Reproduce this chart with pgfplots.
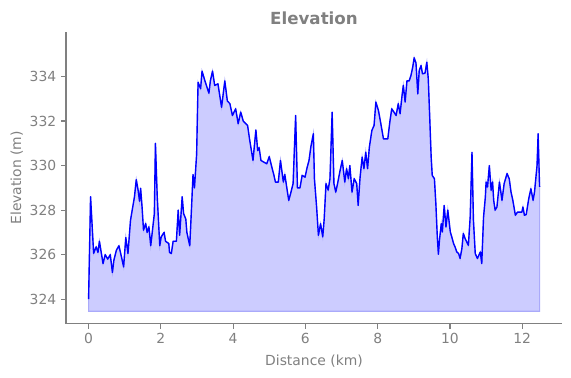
\documentclass[border=0pt]{standalone}
\usepackage{pgfplots}
\pgfplotsset{compat=1.18}
\usepackage{pgfplotstable}
\usepackage{fontspec}
\setmainfont{DejaVu Sans}
\definecolor{txtgray}{RGB}{128,128,128}
\definecolor{fillblue}{RGB}{204,204,255}
\definecolor{edgeblue}{RGB}{170,170,250}
\pgfplotstableread{
x y
0.00 324.0
0.055 328.6
0.14 326.06
0.21 326.35
0.26 326.1
0.30 326.6
0.40 325.6
0.46 326.0
0.53 325.8
0.60 326.0
0.66 325.2
0.70 325.75
0.77 326.2
0.84 326.4
0.91 325.9
0.97 325.45
1.03 326.77
1.09 326.05
1.16 327.54
1.27 328.6
1.32 329.37
1.37 328.9
1.41 328.4
1.44 328.98
1.48 328.14
1.52 327.1
1.58 327.4
1.62 327.0
1.67 327.25
1.72 326.4
1.82 327.84
1.85 331.0
1.90 328.6
1.97 326.4
2.01 326.8
2.09 327.0
2.13 326.6
2.22 326.5
2.24 326.1
2.29 326.05
2.34 326.6
2.43 326.6
2.48 328.0
2.52 326.87
2.59 328.6
2.63 327.84
2.69 327.6
2.72 327.0
2.80 326.4
2.85 328.14
2.89 329.6
2.93 329.0
2.99 330.5
3.03 333.74
3.10 333.45
3.14 334.24
3.22 333.8
3.33 333.25
3.37 333.8
3.43 334.24
3.49 333.6
3.58 333.67
3.68 332.62
3.77 333.8
3.84 332.9
3.91 332.78
3.98 332.25
4.07 332.55
4.14 331.88
4.21 332.4
4.28 332.0
4.40 331.8
4.46 331.13
4.55 330.23
4.63 331.6
4.68 330.68
4.72 330.8
4.77 330.23
4.93 330.08
5.00 330.4
5.06 330.0
5.13 329.56
5.17 329.26
5.25 329.26
5.31 330.23
5.39 329.26
5.43 329.6
5.51 328.74
5.54 328.44
5.60 328.8
5.66 329.2
5.73 332.25
5.78 329.0
5.85 329.0
5.91 329.56
5.99 329.48
6.05 329.93
6.10 330.23
6.15 330.83
6.22 331.43
6.25 329.4
6.31 328.14
6.36 326.87
6.42 327.39
6.48 326.8
6.52 327.6
6.57 329.19
6.63 328.9
6.68 329.41
6.74 332.4
6.79 329.19
6.84 328.81
6.89 329.19
6.96 329.78
7.02 330.23
7.09 329.26
7.14 329.86
7.19 329.41
7.23 330.0
7.29 328.81
7.35 329.41
7.42 329.19
7.46 328.21
7.51 329.41
7.57 330.38
7.62 329.86
7.67 330.6
7.72 329.86
7.77 330.83
7.84 331.58
7.90 331.8
7.95 332.85
8.02 332.48
8.08 331.95
8.16 331.2
8.28 331.2
8.34 332.0
8.39 332.55
8.51 332.25
8.57 332.78
8.62 332.33
8.68 333.22
8.71 333.6
8.76 332.85
8.81 333.8
8.87 333.8
8.92 334.04
8.97 334.42
9.01 334.84
9.06 334.6
9.11 333.22
9.15 334.27
9.20 334.49
9.24 334.12
9.31 334.15
9.36 334.64
9.40 333.9
9.44 332.18
9.48 330.38
9.51 329.56
9.57 329.41
9.61 328.29
9.65 326.8
9.68 326.02
9.71 326.65
9.76 327.39
9.79 327.02
9.84 328.21
9.89 327.24
9.94 328.0
10.01 327.02
10.05 326.8
10.10 326.5
10.14 326.35
10.19 326.12
10.24 326.05
10.28 325.83
10.33 326.27
10.37 326.95
10.42 326.72
10.51 326.42
10.56 327.69
10.61 330.6
10.65 327.54
10.70 326.05
10.76 325.83
10.84 326.12
10.88 325.6
10.93 327.69
10.98 328.59
11.00 329.26
11.04 329.04
11.09 330.0
11.14 328.89
11.18 329.26
11.21 328.44
11.25 328.0
11.30 328.14
11.37 329.26
11.44 328.44
11.50 329.19
11.58 329.64
11.64 329.41
11.69 328.81
11.74 328.44
11.81 327.77
11.87 327.91
11.99 327.91
12.02 328.14
12.06 327.77
12.11 327.8
12.18 328.51
12.24 328.96
12.30 328.44
12.34 328.81
12.41 330.0
12.44 331.43
12.48 329.04
}\elev
\begin{document}
\begin{tikzpicture}
\begin{axis}[
  scale only axis,
  width=357pt, height=210pt,
  xmin=-0.625, xmax=13.1,
  ymin=322.9, ymax=336.0,
  axis x line*=bottom, axis y line*=left,
  axis line style={-, draw=txtgray, line width=0.8pt},
  xtick={0,2,4,6,8,10,12},
  ytick={324,326,328,330,332,334},
  tick align=outside,
  major tick length=3.5pt,
  tick style={draw=txtgray, line width=0.8pt},
  tick label style={font=\fontsize{10}{12}\selectfont, text=txtgray},
  /pgf/number format/assume math mode=true,
  /pgf/number format/1000 sep={},
  xlabel={Distance (km)}, ylabel={Elevation (m)},
  label style={font=\fontsize{10}{12}\selectfont, text=txtgray},
  title={\textbf{Elevation}},
  title style={font=\fontsize{12}{14}\selectfont, text=txtgray, at={(0.5,1)}, anchor=base, yshift=-1pt},
  xlabel style={yshift=-1pt},
  ylabel style={yshift=-2pt},
  clip=false,
]
\addplot[fill=fillblue, draw=edgeblue, line width=0.8pt] table[x=x,y=y]{\elev} -- (axis cs:12.48,323.46) -- (axis cs:0,323.46) -- cycle;
\addplot[blue, line width=1pt, line join=round] table[x=x,y=y]{\elev};
\coordinate (ll) at (rel axis cs:0,0);
\coordinate (ur) at (rel axis cs:1,1);
\end{axis}
\pgfresetboundingbox
\path ([xshift=-47.5pt,yshift=-38.9pt]ll) rectangle ([xshift=6.5pt,yshift=23pt]ur);
\end{tikzpicture}
\end{document}
